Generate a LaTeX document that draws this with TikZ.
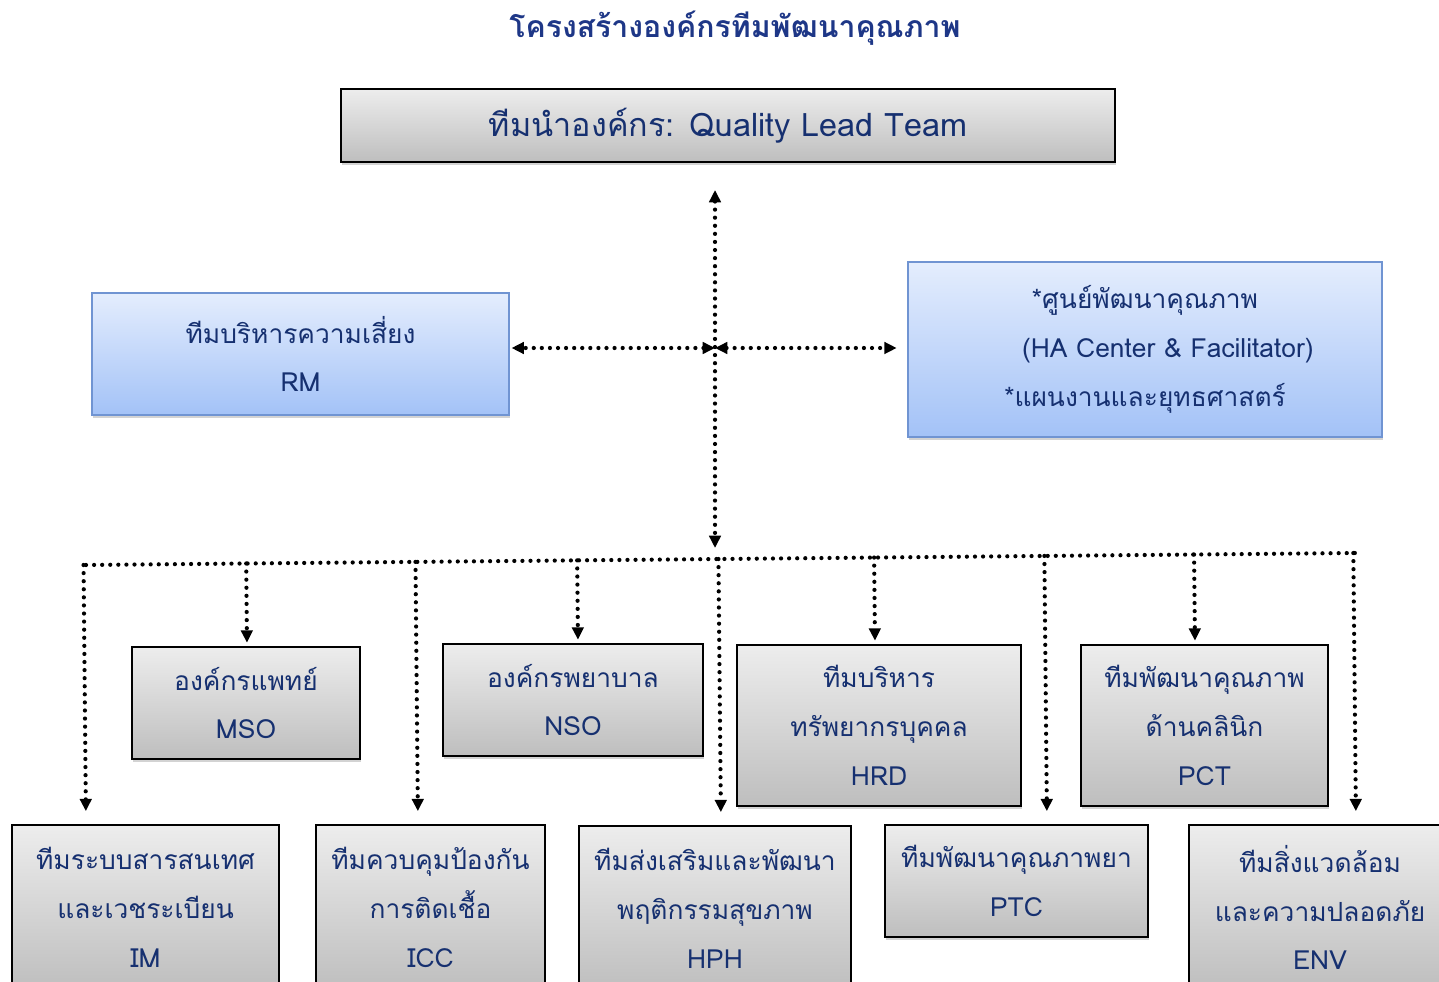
\documentclass[tikz,border=0pt]{standalone}
\usepackage{fontspec}
\setmainfont[Script=Thai]{Loma}
\usetikzlibrary{arrows.meta, calc, shadows}

\definecolor{teamtext}{RGB}{22,48,112}
\definecolor{titletext}{RGB}{30,55,135}
\definecolor{grayhi}{RGB}{237,237,237}
\definecolor{graylo}{RGB}{190,190,190}
\definecolor{bluehi}{RGB}{228,237,253}
\definecolor{bluelo}{RGB}{163,194,247}
\definecolor{blueline}{RGB}{112,148,210}

\tikzset{
	boxsize/.style 2 args = {minimum width = #1*0.02cm, minimum height = #2*0.02cm},
	teambox/.style = {draw = black, line width = 0.9pt, top color = grayhi, bottom color = graylo,
		text = teamtext, align = center, inner sep = 0pt,
		font = \fontsize{15}{27.8}\selectfont,
		drop shadow = {shadow xshift = 0.6pt, shadow yshift = -1.6pt, opacity = 0.35}},
	unitbox/.style = {teambox, draw = blueline, top color = bluehi, bottom color = bluelo},
	dotline/.style = {line width = 2.4pt, line cap = round, dash pattern = on 0pt off 4.6pt}
}

\begin{document}
\begin{tikzpicture}[> = {Triangle[length = 7pt, width = 6.5pt]}, x = 0.02cm, y = -0.02cm]

	\useasboundingbox (0, 0) rectangle (1439, 982);
	\clip (0, 0) rectangle (1439, 982);

	% Title and lead team

	\node (title) [font = \fontsize{17.2}{20}\selectfont\bfseries, text = titletext] at (735, 28)
		{โครงสร้างองค์กรทีมพัฒนาคุณภาพ};
	\node (lead) [teambox, boxsize = {774}{73}, font = \fontsize{18.4}{22}\selectfont] at (728, 125.5)
		{ทีมนำองค์กร: Quality Lead Team};

	% Support units

	\node (rm) [unitbox, boxsize = {417}{122}] at (300.5, 354)
		{ทีมบริหารความเสี่ยง \\ RM};
	\node (ha) [unitbox, boxsize = {474}{175}] at (1145, 349.5)
		{*ศูนย์พัฒนาคุณภาพ \\ \hspace*{26pt}(HA Center \& Facilitator) \\ *แผนงานและยุทธศาสตร์};

	% Teams, upper row

	\node (mso) [teambox, boxsize = {228}{112}] at (246, 703) {องค์กรแพทย์ \\ MSO};
	\node (nso) [teambox, boxsize = {260}{112}] at (573, 700) {องค์กรพยาบาล \\ NSO};
	\node (hrd) [teambox, boxsize = {284}{161}] at (879, 725.5) {ทีมบริหาร \\ ทรัพยากรบุคคล \\ HRD};
	\node (pct) [teambox, boxsize = {247}{161}] at (1204.5, 725.5) {ทีมพัฒนาคุณภาพ \\ ด้านคลินิก \\ PCT};

	% Teams, lower row

	\node (im) [teambox, boxsize = {267}{165}] at (145.5, 907.5) {ทีมระบบสารสนเทศ \\ และเวชระเบียน \\ IM};
	\node (icc) [teambox, boxsize = {229}{165}] at (430.5, 907.5) {ทีมควบคุมป้องกัน \\ การติดเชื้อ \\ ICC};
	\node (hph) [teambox, boxsize = {272}{165}] at (715, 908.5) {ทีมส่งเสริมและพัฒนา \\ พฤติกรรมสุขภาพ \\ HPH};
	\node (ptc) [teambox, boxsize = {263}{112}] at (1016.5, 881) {ทีมพัฒนาคุณภาพยา \\ PTC};
	\node (env) [teambox, boxsize = {262}{165}] at (1320, 907.5) {ทีมสิ่งแวดล้อม \\ และความปลอดภัย \\ ENV};

	% Cross of links in the middle

	\coordinate (hub) at (715, 348);
	\coordinate (up) at (715, 190);
	\coordinate (down) at (715, 548);

	\draw [dotline, <->] (up) -- (down);
	\draw [dotline, <->, shorten > = 1pt] (hub) -- (hub -| rm.east);
	\draw [dotline, <->, shorten > = 6pt] (hub) -- (hub -| ha.west);

	% Bus to the teams

	\coordinate (busL) at (86, 565);
	\coordinate (busR) at (1356, 553);
	\draw [dotline] (busL) -- (busR);

	\foreach \team/\dx in {mso/1, nso/5, hrd/-4, pct/-9.5} {
		\coordinate (\team-in) at ($(\team.north) + (\dx, 0)$);
		\draw [dotline, ->, shorten > = 2pt] ($(busL)!(\team-in)!(busR)$) -- (\team-in);
	}

	\foreach \team/\dx in {im/-59.5, icc/-12.5, hph/6, ptc/30.5, env/36} {
		\coordinate (\team-in) at ($(\team.north) + (\dx, 0)$);
		\draw [dotline, ->, shorten > = 7.4pt] ($(busL)!(\team-in)!(busR)$) -- (\team-in);
	}

\end{tikzpicture}
\end{document}
